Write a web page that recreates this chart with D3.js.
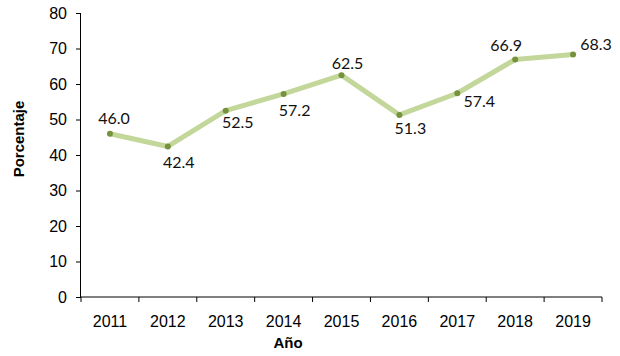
<!DOCTYPE html>
<html><head><meta charset="utf-8">
<script src="https://cdn.jsdelivr.net/npm/d3@7"></script>
<style>body{margin:0;background:#fff}</style>
</head><body>
<svg id="c" width="620" height="356"></svg>
<script>
const years = ["2011","2012","2013","2014","2015","2016","2017","2018","2019"];
const values = [46.0, 42.4, 52.5, 57.2, 62.5, 51.3, 57.4, 66.9, 68.3];
const yTicks = [0,10,20,30,40,50,60,70,80];
const xTitle = "Año";
const yTitle = "Porcentaje";
// label offsets (dx, dy of label centre from point), styling only
const labelDx = [4, 11, 12, 11, 6, 11, 22, -9, 23];
const labelDy = [-15, 15.5, 11.5, 16, -12, 13.5, 8.5, -14, -10];

const svg = d3.select("#c");
const m = {l:81, r:18, t:13, b:59};
const W = 620, H = 356;
const x = d3.scaleBand().domain(years).range([m.l, W - m.r]);
const y = d3.scaleLinear().domain([0,80]).range([H - m.b, m.t]);

const tickFont = "'Liberation Sans', Arial, sans-serif";
const lblFont = "Lato, 'Noto Sans', sans-serif";

// y axis
const ya = svg.append("g").attr("transform",`translate(${m.l},0)`)
  .call(d3.axisLeft(y).tickValues(yTicks).tickSize(5).tickPadding(9).tickFormat(d3.format("d")));
ya.selectAll("text").attr("font-family",tickFont).attr("font-size",16).attr("fill","#000");
ya.selectAll("line,path").attr("stroke","#000");
ya.select(".domain").attr("d",`M-0.5,${y(80)}V${y(0)}`);

// x axis with boundary ticks
const xa = svg.append("g").attr("transform",`translate(0,${y(0)})`);
xa.append("line").attr("x1",m.l).attr("x2",W-m.r).attr("stroke","#000");
const bounds = years.map(d => x(d)).concat([x(years[years.length-1]) + x.bandwidth()]);
xa.selectAll("line.t").data(bounds).join("line").attr("class","t")
  .attr("x1",d=>d).attr("x2",d=>d).attr("y1",0).attr("y2",5).attr("stroke","#000");
xa.selectAll("text").data(years).join("text")
  .attr("x",d=>x(d)+x.bandwidth()/2).attr("y",30)
  .attr("text-anchor","middle").attr("font-family",tickFont).attr("font-size",16).attr("fill","#000")
  .text(d=>d);

// line
const pts = years.map((d,i)=>({yr:d, v:values[i], i}));
const line = d3.line().x(d=>x(d.yr)+x.bandwidth()/2).y(d=>y(d.v));
svg.append("path").datum(pts).attr("d",line).attr("fill","none")
  .attr("stroke","#c4d79b").attr("stroke-width",5).attr("stroke-linejoin","round");
svg.selectAll("circle").data(pts).join("circle")
  .attr("cx",d=>x(d.yr)+x.bandwidth()/2).attr("cy",d=>y(d.v)).attr("r",3)
  .attr("fill","#76923c");

// data labels
svg.selectAll("text.lbl").data(pts).join("text").attr("class","lbl")
  .attr("x",d=>x(d.yr)+x.bandwidth()/2+labelDx[d.i])
  .attr("y",d=>y(d.v)+labelDy[d.i])
  .attr("dy","0.35em").attr("text-anchor","middle")
  .attr("font-family",lblFont).attr("font-size",16).attr("fill","#111")
  .text(d=>d.v.toFixed(1));

// titles
svg.append("text").attr("x",288).attr("y",348).attr("text-anchor","middle")
  .attr("font-family",tickFont).attr("font-weight","bold").attr("font-size",15).text(xTitle);
svg.append("text").attr("transform","translate(24,139) rotate(-90)").attr("text-anchor","middle")
  .attr("font-family",tickFont).attr("font-weight","bold").attr("font-size",15).text(yTitle);
</script>
</body></html>
